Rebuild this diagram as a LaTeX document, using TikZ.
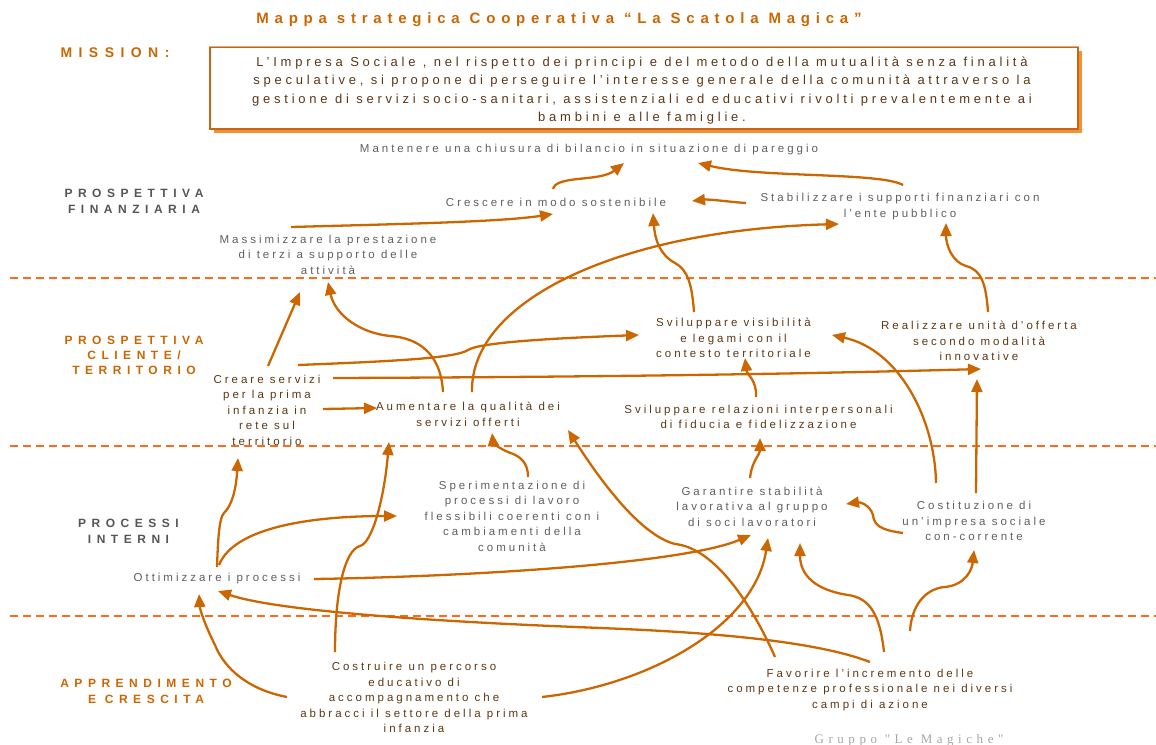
\documentclass[tikz,border=0pt]{standalone}
\usepackage{fontspec}
\setmainfont{Liberation Sans}
\newfontfamily\spf[LetterSpace=26]{Liberation Sans}
\newfontfamily\msf[LetterSpace=29]{Liberation Sans}
\newfontfamily\hdf[LetterSpace=46]{Liberation Sans Bold}
\newfontfamily\titlefont[LetterSpace=38.5]{Liberation Sans Bold}
\newfontfamily\grpfont[LetterSpace=35]{Liberation Serif}
\usetikzlibrary{arrows.meta,calc,shadows}
\definecolor{arrc}{RGB}{204,102,0}
\definecolor{dashc}{RGB}{250,108,28}
\definecolor{orh}{RGB}{204,102,0}
\definecolor{grh}{RGB}{85,85,85}
\definecolor{txg}{RGB}{95,95,95}
\definecolor{txb}{RGB}{92,55,20}
\definecolor{shad}{RGB}{245,145,50}
\definecolor{boxb}{RGB}{200,100,20}
\definecolor{boxt}{RGB}{225,170,120}
\definecolor{grp}{RGB}{165,165,165}
\tikzset{
 lbl/.style={align=center, inner sep=0pt, font=\spf\fontsize{11.5}{15.5}\selectfont},
 tg/.style={lbl, text=txg},
 tb/.style={lbl, text=txb},
 hd/.style={align=center, inner sep=0pt, font=\hdf\fontsize{12}{16}\selectfont},
 hdo/.style={hd, text=orh},
 hdg/.style={hd, text=grh},
 con/.style={draw=arrc, line width=2.3pt, -{Triangle[length=13pt,width=11pt]}},
 sep/.style={draw=dashc, line width=1.8pt, dash pattern=on 8pt off 5pt},
}
\begin{document}
\begin{tikzpicture}[x=1pt,y=-1pt]
\useasboundingbox (0,0) rectangle (1156,744);
% title and mission
\node[hdo, font=\titlefont\fontsize{15}{18}\selectfont] (title) at (559,20) {Mappa strategica Cooperativa “La Scatola Magica”};
\node[hdo, font=\hdf\fontsize{14}{16}\selectfont] (mission) at (115,53) {MISSION:};
\node[minimum width=868pt, minimum height=82pt, draw=boxb, fill=white, line width=1.2pt, inner sep=0pt,
  drop shadow={shadow xshift=4pt, shadow yshift=-4pt, fill=shad, opacity=1}] (mbox) at (644,88) {};
\draw[boxt, line width=1.4pt] (mbox.north west) -- (mbox.north east);
\node[tb, font=\msf\fontsize{13}{18.5}\selectfont] (mtext) at (642,90.5) {L’Impresa Sociale , nel rispetto dei principi e del metodo della mutualità senza finalità\\
speculative, si propone di perseguire l’interesse generale della comunità attraverso la\\
gestione di servizi socio-sanitari, assistenziali ed educativi rivolti prevalentemente ai\\
bambini e alle famiglie.};
% separators
\draw[sep] (10,278) -- (1156,278);
\draw[sep] (10,446) -- (1156,446);
\draw[sep] (10,616) -- (1156,616);
% headings
\node[hdg] (pf) at (134,201.5) {PROSPETTIVA\\FINANZIARIA};
\node[hdo, font=\hdf\fontsize{12}{15}\selectfont] (pc) at (134,355) {PROSPETTIVA\\CLIENTE/\\TERRITORIO};
\node[hdg] (pi) at (128.5,531) {PROCESSI\\INTERNI};
\node[hdo] (ac) at (146,691) {APPRENDIMENTO\\E CRESCITA};
% objectives
\node[tg] (mant) at (589,150) {Mantenere una chiusura di bilancio in situazione di pareggio};
\node[tg] (cres) at (556,202) {Crescere in modo sostenibile};
\node[tg] (stab) at (900,206.5) {Stabilizzare i supporti finanziari con\\l’ente pubblico};
\node[tg] (mass) at (328,254.5) {Massimizzare la prestazione\\di terzi a supporto delle\\attività};
\node[tb] (svis) at (733.5,338) {Sviluppare visibilità\\e legami con il\\contesto territoriale};
\node[tb] (real) at (979,341) {Realizzare unità d’offerta\\secondo modalità\\innovative};
\node[tb] (crea) at (267,410) {Creare servizi\\per la prima\\infanzia in\\rete sul\\territorio};
\node[tb] (aume) at (468,414.5) {Aumentare la qualità dei\\servizi offerti};
\node[tb] (srel) at (758.5,417) {Sviluppare relazioni interpersonali\\di fiducia e fidelizzazione};
\node[tg] (sper) at (512,516) {Sperimentazione di\\processi di lavoro\\flessibili coerenti con i\\cambiamenti della\\comunità};
\node[tg] (gara) at (752,506.5) {Garantire stabilità\\lavorativa al gruppo\\di soci lavoratori};
\node[tg] (cost) at (974,521) {Costituzione di\\un’impresa sociale\\con-corrente};
\node[tg] (otti) at (217,579) {Ottimizzare i processi};
\node[tb] (costr) at (414,697.5) {Costruire un percorso\\educativo di\\accompagnamento che\\abbracci il settore della prima\\infanzia};
\node[tb] (favo) at (870,690) {Favorire l’incremento delle\\competenze professionale nei diversi\\campi di azione};
\node[anchor=base, inner sep=0pt, text=grp, font=\grpfont\fontsize{13}{15}\selectfont] (grp) at (909,743) {Gruppo "Le Magiche"};
% connectors
\draw[con] ($(cres)+(-3,-13)$) .. controls (556,175) and (600,182) .. ($(mant)+(35,13)$);
\draw[con] ($(stab)+(3,-21.5)$) .. controls (880,172) and (760,178) .. ($(mant)+(109,13)$);
\draw[con] ($(stab)+(-154,-3.5)$) .. controls (730,202) and (710,199) .. ($(cres)+(136,-1)$);
\draw[con] ($(mass)+(-37,-27.5)$) .. controls (400,224) and (500,222) .. ($(cres)+(-3,12)$);
\draw[con] ($(aume)+(4,-22.5)$) .. controls (470,300) and (620,230) .. ($(stab)+(-61,17.5)$);
\draw[con] ($(svis)+(-39.5,-26)$) .. controls (692,285) and (688,270) .. (675,263) .. controls (660,255) and (655,240) .. ($(cres)+(97,11)$);
\draw[con] ($(real)+(9,-29)$) .. controls (986,285) and (982,270) .. (966,266) .. controls (952,262) and (946,245) .. ($(stab)+(46,16.5)$);
\draw[con] ($(crea)+(1,-44)$) -- ($(mass)+(-28,37.5)$);
\draw[con] ($(aume)+(-25,-22.5)$) .. controls (441,355) and (420,338) .. (390,336) .. controls (360,333) and (335,315) .. ($(mass)+(0,27.5)$);
\draw[con] ($(crea)+(31,-45)$) .. controls (400,361) and (455,358) .. (468,350) .. controls (480,342) and (560,338) .. ($(svis)+(-94.5,-3)$);
\draw[con] ($(crea)+(66,-32)$) .. controls (600,377) and (800,374) .. ($(real)+(2,28)$);
\draw[con] ($(crea)+(56,-1)$) -- ($(aume)+(-91,-6.5)$);
\draw[con] ($(srel)+(-2.5,-20)$) .. controls (757,380) and (747,375) .. ($(svis)+(11.5,20)$);
\draw[con] ($(gara)+(-2,-28.5)$) .. controls (752,460) and (760,455) .. ($(srel)+(1.5,21)$);
\draw[con] ($(sper)+(16,-39)$) .. controls (528,462) and (520,456) .. (508,452) .. controls (498,448) and (493,442) .. ($(aume)+(24,18.5)$);
\draw[con] ($(favo)+(-95,-33)$) .. controls (752,605) and (715,548) .. (675,544) .. controls (640,535) and (600,480) .. ($(aume)+(100,15.5)$);
\draw[con] ($(costr)+(-79,-45.5)$) .. controls (335,590) and (345,550) .. (360,546) .. controls (372,543) and (384,500) .. ($(aume)+(-79,27.5)$);
\draw[con] ($(costr)+(-127,-0.5)$) .. controls (250,690) and (225,670) .. (215,645) .. controls (205,625) and (200,610) .. ($(otti)+(-18,15)$);
\draw[con] ($(costr)+(128,-0.5)$) .. controls (650,685) and (755,625) .. ($(gara)+(16,31.5)$);
\draw[con] ($(otti)+(0,-12)$) .. controls (218,540) and (219,518) .. (224,513) .. controls (232,505) and (236,490) .. ($(crea)+(-29,48)$);
\draw[con] ($(otti)+(2,-14)$) .. controls (235,525) and (320,516) .. ($(sper)+(-115,0)$);
\draw[con] ($(otti)+(97,0)$) .. controls (450,577) and (680,565) .. ($(gara)+(-1,28.5)$);
\draw[con] ($(cost)+(-71,12)$) .. controls (880,530) and (874,525) .. (873,515) .. controls (870,505) and (860,502) .. ($(gara)+(94,-2.5)$);
\draw[con] ($(cost)+(2,-28)$) -- ($(real)+(-2,38)$);
\draw[con] ($(cost)+(-38,-38)$) .. controls (935,420) and (900,350) .. ($(svis)+(98.5,-3)$);
\draw[con] ($(favo)+(0,-28)$) .. controls (800,635) and (650,630) .. (576,627) .. controls (450,622) and (280,612) .. ($(otti)+(1,12)$);
\draw[con] ($(favo)+(14,-38)$) .. controls (880,615) and (870,598) .. (848,595) .. controls (815,590) and (800,575) .. ($(gara)+(48,36.5)$);
\draw[con] ($(favo)+(40,-59)$) .. controls (912,600) and (930,588) .. (945,587) .. controls (965,585) and (972,570) .. ($(cost)+(0,29)$);
\end{tikzpicture}
\end{document}
